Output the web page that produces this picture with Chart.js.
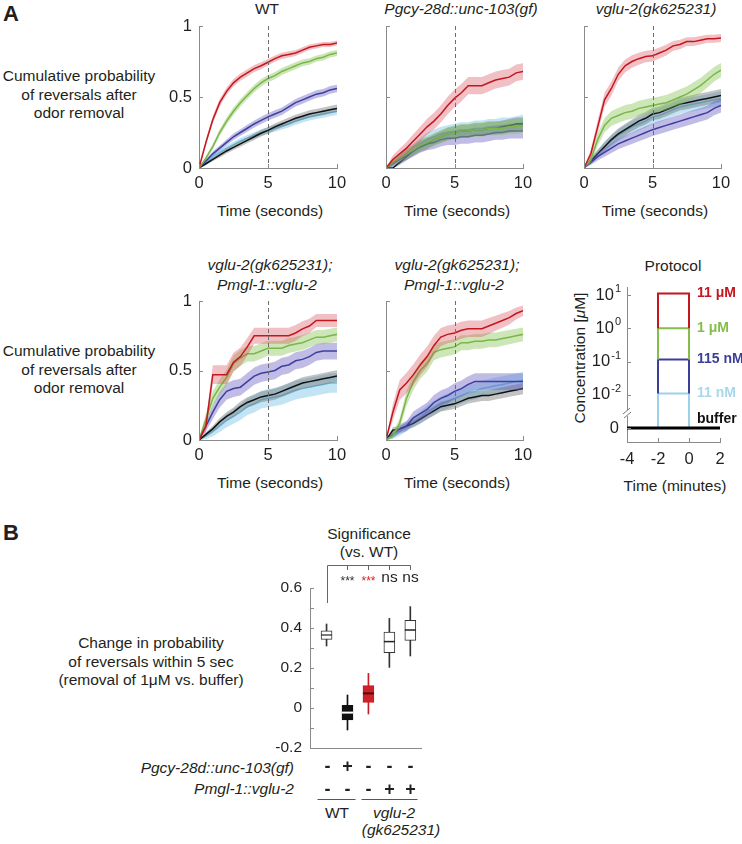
<!DOCTYPE html>
<html>
<head>
<meta charset="utf-8">
<script src="https://cdn.jsdelivr.net/npm/chart.js@4.4.1/dist/chart.umd.min.js"></script>
<style>
  body { margin: 0; width: 742px; height: 844px; position: relative; overflow: hidden; background: #fff;
         font-family: "Liberation Sans", Arial, sans-serif; color: #231f20; }
  canvas { position: absolute; }
  .t { position: absolute; transform: translate(-50%, -50%); white-space: nowrap; font-size: 15.5px; line-height: 18.5px; text-align: center; }
  .i { font-style: italic; }
  .r { transform: translate(-100%, -50%); text-align: right; }
  .big { font-size: 22px; font-weight: bold; }
  .rot { transform: translate(-50%, -50%) rotate(-90deg); }
</style>
</head>
<body>
<div class="t big" style="left:11px;top:14px">A</div>
<div class="t big" style="left:11px;top:533px">B</div>

<div class="t" style="left:79px;top:95px">Cumulative probability<br>of reversals after<br>odor removal</div>
<div class="t" style="left:79px;top:370px">Cumulative probability<br>of reversals after<br>odor removal</div>

<div class="t" style="left:267px;top:9px">WT</div>
<div class="t i" style="left:461px;top:9px">Pgcy-28d::unc-103(gf)</div>
<div class="t i" style="left:656px;top:9px">vglu-2(gk625231)</div>
<div class="t" style="left:270px;top:211px">Time (seconds)</div>
<div class="t" style="left:457px;top:211px">Time (seconds)</div>
<div class="t" style="left:655px;top:211px">Time (seconds)</div>

<div class="t i" style="left:270px;top:265px">vglu-2(gk625231);</div>
<div class="t i" style="left:267px;top:285px">Pmgl-1::vglu-2</div>
<div class="t i" style="left:457px;top:265px">vglu-2(gk625231);</div>
<div class="t i" style="left:454px;top:285px">Pmgl-1::vglu-2</div>
<div class="t" style="left:270px;top:483px">Time (seconds)</div>
<div class="t" style="left:457px;top:483px">Time (seconds)</div>

<div class="t" style="left:673px;top:266px">Protocol</div>
<div class="t rot" style="left:580px;top:358px">Concentration [<i>μ</i>M]</div>
<div class="t" style="left:675px;top:486px">Time (minutes)</div>

<div class="t" style="left:369px;top:534px">Significance</div>
<div class="t" style="left:369px;top:552px">(vs. WT)</div>
<div class="t" style="left:151px;top:662px">Change in probability<br>of reversals within 5 sec<br>(removal of 1μM vs. buffer)</div>
<div class="t i r" style="left:294px;top:768px">Pgcy-28d::unc-103(gf)</div>
<div class="t i r" style="left:294px;top:789px">Pmgl-1::vglu-2</div>
<div class="t" style="left:337px;top:813px">WT</div>
<div class="t i" style="left:394px;top:813px">vglu-2</div>
<div class="t i" style="left:401px;top:830px">(gk625231)</div>

<script>
// time points (seconds after odor removal)
const times = [0, 0.5, 1, 1.5, 2, 2.5, 3, 3.5, 4, 4.5, 5, 5.5, 6, 6.5, 7, 7.5, 8, 8.5, 9, 9.5, 10];

// cumulative probability of reversal; order 11uM, 1uM, 115nM, buffer, 11nM
const wt11uM   = [0, .18, .34, .46, .54, .60, .64, .67, .70, .72, .745, .77, .79, .80, .81, .83, .85, .86, .87, .87, .88];
const wt1uM    = [0, .07, .15, .25, .33, .40, .46, .51, .56, .60, .63, .65, .68, .70, .72, .74, .75, .77, .78, .80, .81];
const wt115nM  = [0, .05, .10, .14, .18, .22, .25, .28, .31, .335, .36, .38, .40, .43, .46, .48, .50, .52, .53, .55, .56];
const wtBuffer = [0, .03, .06, .09, .12, .145, .17, .195, .22, .245, .265, .29, .31, .33, .35, .365, .38, .39, .40, .41, .42];
const wt11nM   = [0, .04, .08, .11, .14, .165, .19, .21, .23, .25, .265, .28, .295, .31, .33, .345, .36, .37, .38, .39, .40];
const wtN = [350, 350, 350, 350, 350];

const gf11uM   = [0, .06, .10, .14, .19, .24, .29, .33, .38, .44, .49, .53, .58, .58, .58, .60, .62, .63, .64, .67, .68];
const gf1uM    = [0, .04, .07, .10, .13, .16, .18, .20, .22, .24, .25, .26, .26, .27, .27, .28, .28, .28, .29, .29, .30];
const gf115nM  = [0, .03, .06, .09, .12, .15, .17, .18, .20, .21, .21, .22, .22, .23, .23, .24, .25, .25, .26, .26, .26];
const gfBuffer = [0, 0, .04, .08, .12, .15, .17, .20, .22, .24, .25, .26, .26, .27, .27, .28, .28, .29, .30, .31, .31];
const gf11nM   = [0, .03, .06, .10, .13, .17, .20, .22, .24, .25, .26, .27, .27, .28, .28, .29, .29, .30, .30, .31, .32];
const gfN = [65, 80, 70, 100, 70];

const vg11uM   = [0, .10, .29, .48, .56, .66, .72, .75, .77, .785, .79, .81, .83, .86, .87, .89, .89, .90, .91, .91, .915];
const vg1uM    = [0, .06, .20, .30, .35, .37, .39, .40, .42, .43, .44, .45, .46, .48, .50, .52, .55, .58, .62, .66, .69];
const vg115nM  = [0, .04, .08, .11, .14, .17, .19, .21, .23, .25, .27, .285, .30, .315, .33, .345, .36, .375, .39, .42, .44];
const vgBuffer = [0, .05, .10, .15, .20, .24, .27, .30, .33, .35, .38, .39, .41, .43, .45, .46, .47, .48, .49, .50, .51];
const vg11nM   = [0, .05, .10, .15, .19, .23, .26, .29, .31, .33, .36, .37, .39, .41, .43, .44, .45, .46, .47, .48, .49];
const vgN = [100, 85, 100, 120, 100];

const ra11uM   = [0, .10, .47, .47, .47, .56, .60, .67, .75, .75, .75, .75, .75, .75, .77, .80, .82, .86, .86, .86, .86];
const ra1uM    = [0, .15, .30, .38, .45, .55, .59, .62, .62, .64, .66, .66, .66, .68, .69, .70, .72, .74, .74, .75, .76];
const ra115nM  = [0, .10, .20, .29, .35, .37, .38, .42, .46, .48, .49, .50, .53, .54, .57, .58, .60, .63, .64, .64, .64];
const raBuffer = [0, .04, .08, .13, .17, .20, .24, .27, .29, .31, .32, .33, .35, .37, .39, .41, .42, .43, .44, .45, .46];
const ra11nM   = [0, .03, .06, .10, .14, .17, .20, .24, .26, .29, .30, .31, .32, .34, .36, .37, .38, .39, .40, .41, .41];
const raN = [55, 75, 64, 140, 50];

const rb11uM   = [0, .20, .36, .41, .47, .54, .60, .68, .74, .76, .77, .79, .80, .80, .80, .82, .84, .86, .88, .91, .93];
const rb1uM    = [0, .03, .12, .30, .42, .50, .55, .63, .65, .66, .67, .70, .70, .71, .71, .72, .72, .73, .74, .75, .76];
const rb115nM  = [0, .04, .08, .10, .16, .19, .22, .27, .30, .32, .35, .37, .40, .42, .42, .42, .42, .42, .42, .42, .42];
const rbBuffer = [0, .07, .08, .10, .12, .15, .18, .21, .24, .25, .26, .28, .30, .31, .32, .32, .33, .34, .35, .36, .37];
const rb11nM   = [0, .03, .06, .10, .13, .16, .20, .23, .26, .28, .30, .32, .34, .35, .37, .38, .39, .40, .41, .42, .43];
const rbN = [45, 73, 68, 145, 68];

// protocol
const protoConc = [11, 1, 0.115, 0.011]; // uM
const protoNames = ['11 μM', '1 μM', '115 nM', '11 nM'];
const pulseOn = -2;
const pulseOff = 0;
const protoTime = [-4, 2];

// panel B boxes: WT, unc-103(gf), vglu-2, vglu-2;rescue, vglu-2;rescue
const boxLow    = [0.310, -0.110, -0.030, 0.203, 0.260];
const boxQ1     = [0.343, -0.060, 0.028, 0.277, 0.338];
const boxMedian = [0.365, -0.023, 0.073, 0.332, 0.390];
const boxQ3     = [0.386, 0.013, 0.112, 0.380, 0.438];
const boxHigh   = [0.420, 0.065, 0.173, 0.448, 0.507];
const unc103Row = ['-', '+', '-', '-', '-'];
const rescueRow = ['-', '-', '-', '+', '+'];
const sigLabels = ['***', '***', 'ns', 'ns'];

const FONT = '"Liberation Sans", Arial, sans-serif';
const INK = '#231f20';
const AXIS = '#8a8a8a';
Chart.defaults.font.family = FONT;
Chart.defaults.color = INK;

const lineColors = ['#c4161c', '#7ab648', '#3e3e9e', '#111111', '#6fbfe0'];
const bandColors = ['rgba(215,75,90,0.35)', 'rgba(135,195,85,0.42)', 'rgba(105,95,195,0.42)',
                    'rgba(105,105,105,0.40)', 'rgba(120,195,230,0.45)'];

const makeCanvas = (area, pad) => {
  const c = document.createElement('canvas');
  const w = area[2] - area[0] + pad.l + pad.r;
  const h = area[3] - area[1] + pad.t + pad.b;
  c.width = w; c.height = h;
  c.style.left = (area[0] - pad.l) + 'px';
  c.style.top = (area[1] - pad.t) + 'px';
  c.style.width = w + 'px'; c.style.height = h + 'px';
  document.body.appendChild(c);
  return c;
};

const fixX = (h) => (s) => { s.height = h; s.paddingLeft = 0; s.paddingRight = 0; };
const fixY = (w) => (s) => { s.width = w; s.paddingTop = 0; s.paddingBottom = 0; };

// small inward ticks, matlab style
const inTicks = {
  id: 'inTicks',
  afterDraw(chart, args, opts) {
    const { ctx, chartArea: a } = chart;
    ctx.save();
    ctx.strokeStyle = AXIS; ctx.lineWidth = 1;
    (opts.axes || []).forEach((id) => {
      const s = chart.scales[id];
      s.ticks.forEach((t) => {
        const p = Math.round(s.getPixelForValue(t.value)) + 0.5;
        ctx.beginPath();
        if (s.isHorizontal()) { ctx.moveTo(p, a.bottom); ctx.lineTo(p, a.bottom - 4); }
        else { ctx.moveTo(a.left, p); ctx.lineTo(a.left + 4, p); }
        ctx.stroke();
      });
    });
    ctx.restore();
  }
};

const vline = {
  id: 'vline',
  afterDatasetsDraw(chart, args, opts) {
    if (opts.at === undefined) return;
    const { ctx, chartArea: a, scales: { x } } = chart;
    const px = Math.round(x.getPixelForValue(opts.at)) + 0.5;
    ctx.save();
    ctx.strokeStyle = '#6d6d6d'; ctx.lineWidth = 1; ctx.setLineDash([4, 3]);
    ctx.beginPath(); ctx.moveTo(px, a.top); ctx.lineTo(px, a.bottom); ctx.stroke();
    ctx.restore();
  }
};

const linePanel = (area, means, ns, showY) => {
  const pad = { l: 42, r: 14, t: 10, b: 26 };
  const canvas = makeCanvas(area, pad);
  const pts = (arr) => arr.map((y, i) => ({ x: times[i], y }));
  const datasets = [];
  means.forEach((m, k) => {
    const se = m.map((p) => Math.sqrt(p * (1 - p) / ns[k]));
    const base = datasets.length;
    datasets.push({ data: pts(m), borderColor: lineColors[k], borderWidth: 1.5, fill: false });
    datasets.push({ data: pts(m.map((p, i) => Math.min(1, p + se[i]))), borderColor: 'transparent',
                    borderWidth: 0, backgroundColor: bandColors[k], fill: base + 2 });
    datasets.push({ data: pts(m.map((p, i) => Math.max(0, p - se[i]))), borderColor: 'transparent',
                    borderWidth: 0, fill: false });
  });

  return new Chart(canvas, {
    type: 'line',
    data: { datasets },
    options: {
      responsive: false, animation: false, devicePixelRatio: 1, events: [],
      layout: { padding: { top: pad.t, right: pad.r, left: 0, bottom: 0 } },
      elements: { point: { radius: 0 }, line: { tension: 0 } },
      plugins: { legend: { display: false }, tooltip: { enabled: false },
                 inTicks: { axes: ['x', 'y'] }, vline: { at: 5 } },
      scales: {
        x: { type: 'linear', min: 0, max: 10,
             ticks: { stepSize: 5, font: { size: 16.5 }, padding: 6, color: INK, maxRotation: 0 },
             grid: { display: false, drawTicks: false }, border: { color: AXIS },
             afterFit: fixX(pad.b) },
        y: { min: 0, max: 1,
             ticks: { stepSize: 0.5, display: showY, font: { size: 16.5 }, padding: 7, color: INK,
                      callback: (v) => String(v) },
             grid: { display: false, drawTicks: false }, border: { color: AXIS },
             afterFit: fixY(pad.l) }
      }
    },
    plugins: [inTicks, vline]
  });
};

linePanel([199, 26, 337, 168], [wt11uM, wt1uM, wt115nM, wtBuffer, wt11nM], wtN, true);
linePanel([386, 26, 523, 168], [gf11uM, gf1uM, gf115nM, gfBuffer, gf11nM], gfN, false);
linePanel([584, 26, 721, 168], [vg11uM, vg1uM, vg115nM, vgBuffer, vg11nM], vgN, false);
linePanel([199, 301, 337, 440], [ra11uM, ra1uM, ra115nM, raBuffer, ra11nM], raN, true);
linePanel([386, 301, 523, 440], [rb11uM, rb1uM, rb115nM, rbBuffer, rb11nM], rbN, false);

// ---- protocol ----
const protoColors = ['#c4161c', '#86bc4a', '#3a3f98', '#9dd0ea'];
const protoTextColors = ['#c4161c', '#86bc4a', '#3a3f98', '#a9d7ec'];
const decade = (c) => Math.log10(c) + 3; // 10^-2 sits one step above the buffer line

const protoExtras = {
  id: 'protoExtras',
  afterDraw(chart) {
    const { ctx, chartArea: a, scales: { x, y } } = chart;
    ctx.save();
    ctx.textBaseline = 'middle';
    ctx.textAlign = 'left';
    ctx.font = 'bold 14px ' + FONT;
    const lx = x.getPixelForValue(pulseOff) + 8;
    protoConc.forEach((c, i) => {
      ctx.fillStyle = protoTextColors[i];
      ctx.fillText(protoNames[i], lx, y.getPixelForValue(decade(c)));
    });
    ctx.fillStyle = '#111';
    ctx.fillText('buffer', lx, y.getPixelForValue(0) - 9);

    // y tick labels with exponents
    ctx.fillStyle = INK;
    ctx.textAlign = 'right';
    y.ticks.forEach((t) => {
      const py = y.getPixelForValue(t.value);
      if (t.value === 0) {
        ctx.font = '16.5px ' + FONT;
        ctx.fillText('0', a.left - 8, py);
        return;
      }
      const e = String(t.value - 3);
      ctx.font = '11px ' + FONT;
      ctx.fillText(e, a.left - 6, py - 6);
      const w = ctx.measureText(e).width;
      ctx.font = '16.5px ' + FONT;
      ctx.fillText('10', a.left - 7 - w, py);
    });

    // axis break
    const by = y.getPixelForValue(0.45);
    ctx.fillStyle = '#fff';
    ctx.fillRect(a.left - 2, by - 3, 4, 6);
    ctx.strokeStyle = '#777'; ctx.lineWidth = 1;
    ctx.beginPath();
    ctx.moveTo(a.left - 4, by + 1); ctx.lineTo(a.left + 3, by - 5);
    ctx.moveTo(a.left - 3, by + 5); ctx.lineTo(a.left + 4, by - 1);
    ctx.stroke();
    ctx.restore();
  }
};

(() => {
  const area = [627, 287, 720, 442];
  const pad = { l: 55, r: 22, t: 10, b: 26 };
  const canvas = makeCanvas(area, pad);
  const datasets = protoConc.map((c, i) => {
    const top = decade(c);
    const base = i + 1 < protoConc.length ? decade(protoConc[i + 1]) : 0;
    return {
      data: [{ x: pulseOn, y: base }, { x: pulseOn, y: top }, { x: pulseOff, y: top }, { x: pulseOff, y: base }],
      borderColor: protoColors[i], borderWidth: 2
    };
  });
  datasets.unshift({ data: protoTime.map((t) => ({ x: t, y: 0 })), borderColor: '#000', borderWidth: 3 });

  new Chart(canvas, {
    type: 'line',
    data: { datasets },
    options: {
      responsive: false, animation: false, devicePixelRatio: 1, events: [],
      layout: { padding: { top: pad.t, right: pad.r, left: 0, bottom: 0 } },
      elements: { point: { radius: 0 }, line: { tension: 0, fill: false } },
      plugins: { legend: { display: false }, tooltip: { enabled: false }, inTicks: { axes: ['x', 'y'] } },
      scales: {
        x: { type: 'linear', min: protoTime[0], max: protoTime[1],
             ticks: { stepSize: 2, font: { size: 16.5 }, padding: 8, color: INK, maxRotation: 0 },
             grid: { display: false, drawTicks: false }, border: { color: AXIS },
             afterFit: fixX(pad.b) },
        y: { type: 'linear', min: -0.42, max: 4.24,
             afterBuildTicks: (s) => { s.ticks = [0, 1, 2, 3, 4].map((v) => ({ value: v })); },
             ticks: { display: false },
             grid: { display: false, drawTicks: false }, border: { color: AXIS },
             afterFit: fixY(pad.l) }
      }
    },
    plugins: [inTicks, protoExtras]
  });
})();

// ---- panel B ----
const bArea = [310, 588, 421, 748];
const bPad = { l: 60, r: 29, t: 73, b: 96 };
const bTop = bArea[1] - bPad.t;
const boxFills = ['#ffffff', '#111111', '#d0202a', '#ffffff', '#ffffff'];
const boxEdges = ['#333333', '#111111', '#c81e28', '#333333', '#333333'];
const medianColors = ['#222222', '#ffffff', '#4a0a0e', '#222222', '#222222'];
const sigColors = ['#333333', '#d0202a', INK, INK];

const bExtras = {
  id: 'bExtras',
  afterDraw(chart) {
    const { ctx, scales: { x } } = chart;
    const px = (i) => Math.round(x.getPixelForValue(i + 1)) + 0.5;
    const Y = (v) => v - bTop;
    ctx.save();
    ctx.strokeStyle = '#666'; ctx.lineWidth = 1;
    ctx.beginPath();
    ctx.moveTo(px(0), Y(603)); ctx.lineTo(px(0), Y(565.5)); ctx.lineTo(px(4), Y(565.5));
    for (let i = 1; i < 5; i++) { ctx.moveTo(px(i), Y(565.5)); ctx.lineTo(px(i), Y(570)); }
    ctx.stroke();

    ctx.textAlign = 'center'; ctx.textBaseline = 'middle';
    sigLabels.forEach((s, i) => {
      ctx.fillStyle = sigColors[i];
      if (s === 'ns') { ctx.font = '15.5px ' + FONT; ctx.fillText(s, px(i + 1), Y(578)); }
      else { ctx.font = '12px ' + FONT; ctx.fillText(s, px(i + 1), Y(582)); }
    });

    ctx.fillStyle = INK;
    ctx.font = 'bold 18px ' + FONT;
    unc103Row.forEach((s, i) => ctx.fillText(s, px(i), Y(767)));
    rescueRow.forEach((s, i) => ctx.fillText(s, px(i), Y(790)));

    ctx.strokeStyle = '#555';
    ctx.beginPath();
    ctx.moveTo(px(0) - 10, Y(799.5)); ctx.lineTo(px(1) + 8, Y(799.5));
    ctx.moveTo(px(2) - 7, Y(799.5)); ctx.lineTo(px(4) + 7, Y(799.5));
    ctx.stroke();
    ctx.restore();
  }
};

(() => {
  const canvas = makeCanvas(bArea, bPad);
  const xs = boxQ1.map((_, i) => i + 1);
  new Chart(canvas, {
    type: 'bar',
    data: {
      datasets: [
        { type: 'scatter', data: xs.map((x, i) => ({ x, y: boxMedian[i] })), pointStyle: 'line',
          pointRadius: 5.5, pointBorderColor: medianColors, pointBorderWidth: [1.2, 2, 2, 1.5, 1.5], showLine: false },
        { type: 'bar', data: xs.map((x, i) => ({ x, y: [boxQ1[i], boxQ3[i]] })), backgroundColor: boxFills,
          borderColor: boxEdges, borderWidth: 1, borderSkipped: false, barThickness: 11, grouped: false },
        { type: 'bar', data: xs.map((x, i) => ({ x, y: [boxLow[i], boxHigh[i]] })), backgroundColor: boxEdges,
          barThickness: 1, grouped: false }
      ]
    },
    options: {
      responsive: false, animation: false, devicePixelRatio: 1, events: [],
      layout: { padding: { top: bPad.t, right: bPad.r, left: 0, bottom: 0 } },
      plugins: { legend: { display: false }, tooltip: { enabled: false }, inTicks: { axes: ['y'] } },
      scales: {
        x: { type: 'linear', min: 0.21, max: 5.51, offset: false,
             ticks: { display: false }, grid: { display: false, drawTicks: false }, border: { color: AXIS },
             afterFit: fixX(bPad.b) },
        y: { type: 'linear', min: -0.2, max: 0.6,
             ticks: { stepSize: 0.1, font: { size: 15.5 }, padding: 8, color: INK, autoSkip: false,
                      callback: (v) => { const k = Math.round(v * 10); return k % 2 ? '' : String(k / 10); } },
             grid: { display: false, drawTicks: false }, border: { color: AXIS },
             afterFit: fixY(bPad.l) }
      }
    },
    plugins: [inTicks, bExtras]
  });
})();
</script>
</body>
</html>
